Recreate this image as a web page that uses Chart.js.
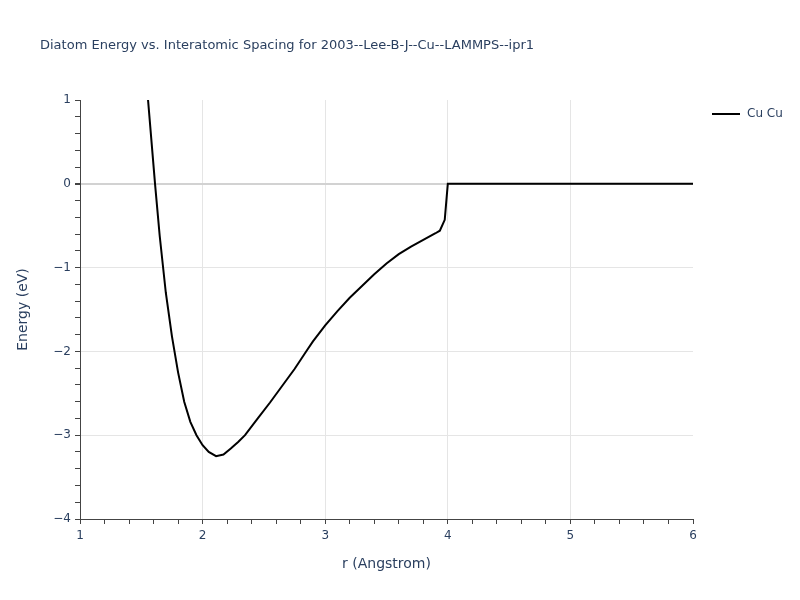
<!DOCTYPE html>
<html>
<head>
<meta charset="utf-8">
<script src="https://cdn.jsdelivr.net/npm/chart.js@4/dist/chart.umd.min.js"></script>
<style>
  html, body { margin: 0; padding: 0; background: #fff; }
  #wrap { width: 800px; height: 600px; position: relative; }
</style>
</head>
<body>
<div id="wrap"><canvas id="diatom" width="800" height="600"></canvas></div>
<script>
// r (Angstrom) and energy (eV)
const radius = [1.50, 1.555, 1.612, 1.65, 1.70, 1.75, 1.80, 1.85, 1.90, 1.95, 2.00, 2.05, 2.11, 2.17, 2.23, 2.29, 2.346,
  2.45, 2.55, 2.65, 2.75, 2.85, 2.90, 3.00, 3.10, 3.20, 3.30, 3.40, 3.50, 3.60, 3.70, 3.80, 3.90, 3.935, 3.975, 4.00,
  4.5, 5.0, 5.5, 6.0];
const energy = [2.1, 1.0, 0.0, -0.62, -1.30, -1.82, -2.25, -2.60, -2.84, -3.0, -3.12, -3.20, -3.25, -3.23, -3.16, -3.08, -3.0,
  -2.80, -2.61, -2.41, -2.21, -1.99, -1.88, -1.69, -1.52, -1.36, -1.22, -1.08, -0.95, -0.84, -0.75, -0.67, -0.59, -0.56, -0.43, 0.0,
  0.0, 0.0, 0.0, 0.0];
const seriesName = 'Cu Cu';
const chartTitle = 'Diatom Energy vs. Interatomic Spacing for 2003--Lee-B-J--Cu--LAMMPS--ipr1';

const textColor = '#2a3f5f';
const font = '"DejaVu Sans", Verdana, Arial, sans-serif';

const isMajor = v => Math.abs(v - Math.round(v)) < 1e-6;
const fmt = v => {
  const n = Math.round(v);
  return n < 0 ? '\u2212' + Math.abs(n) : String(n);
};

// title + legend drawn by hand, plotly style
const extras = {
  id: 'extras',
  afterDraw(chart) {
    const c = chart.ctx;
    c.save();
    c.fillStyle = textColor;
    c.textBaseline = 'middle';
    c.font = '13px ' + font;
    c.fillText(chartTitle, 40, 46);
    const ds = chart.data.datasets[0];
    c.strokeStyle = ds.borderColor;
    c.lineWidth = 2;
    c.beginPath();
    c.moveTo(712, 114);
    c.lineTo(740, 114);
    c.stroke();
    c.font = '12px ' + font;
    c.fillText(ds.label, 747, 114);
    c.restore();
  }
};

new Chart(document.getElementById('diatom'), {
  type: 'line',
  data: {
    datasets: [{
      label: seriesName,
      data: radius.map((r, i) => ({ x: r, y: energy[i] })),
      borderColor: '#000',
      borderWidth: 2,
      pointRadius: 0,
      tension: 0,
      fill: false
    }]
  },
  options: {
    responsive: false,
    animation: false,
    layout: { padding: { left: 0, right: 107, top: 100, bottom: 0 } },
    plugins: { legend: { display: false }, tooltip: { enabled: false } },
    scales: {
      x: {
        type: 'linear',
        min: 1, max: 6,
        afterFit: s => { s.height = 81; },
        afterBuildTicks: s => {
          s.ticks = [];
          for (let i = 0; i <= 25; i++) s.ticks.push({ value: 1 + i * 0.2 });
        },
        ticks: {
          autoSkip: false, maxRotation: 0,
          color: textColor, font: { family: font, size: 12 },
          padding: 5,
          callback: v => isMajor(v) ? fmt(v) : ''
        },
        grid: {
          color: ctx => (ctx.tick && isMajor(ctx.tick.value) && ctx.tick.value > 1 && ctx.tick.value < 6) ? '#e5e5e5' : 'rgba(0,0,0,0)',
          tickColor: '#444',
          tickLength: 5,
          drawOnChartArea: true
        },
        border: { display: true, color: '#444', width: 1 },
        title: {
          display: true, text: 'r (Angstrom)', color: textColor,
          font: { family: font, size: 14 }, padding: { top: 4, bottom: 27 }
        }
      },
      y: {
        type: 'linear',
        min: -4, max: 1,
        afterFit: s => { s.width = 80; },
        afterBuildTicks: s => {
          s.ticks = [];
          for (let i = 0; i <= 25; i++) s.ticks.push({ value: -4 + i * 0.2 });
        },
        ticks: {
          autoSkip: false,
          color: textColor, font: { family: font, size: 12 },
          padding: 4,
          callback: v => isMajor(v) ? fmt(v) : ''
        },
        grid: {
          color: ctx => {
            if (!ctx.tick || !isMajor(ctx.tick.value)) return 'rgba(0,0,0,0)';
            const v = Math.round(ctx.tick.value);
            if (v === 0) return '#d2d2d2';
            return (v > -4 && v < 1) ? '#e5e5e5' : 'rgba(0,0,0,0)';
          },
          lineWidth: ctx => (ctx.tick && Math.abs(ctx.tick.value) < 1e-6) ? 2 : 1,
          tickColor: '#444',
          tickLength: 5
        },
        border: { display: true, color: '#444', width: 1 },
        title: {
          display: true, text: 'Energy (eV)', color: textColor,
          font: { family: font, size: 14 }, padding: { top: 15, bottom: 6 }
        }
      }
    }
  },
  plugins: [extras]
});
</script>
</body>
</html>
